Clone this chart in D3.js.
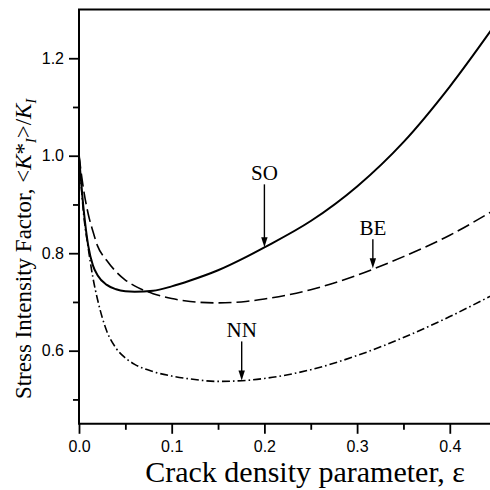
<!DOCTYPE html>
<html>
<head>
<meta charset="utf-8">
<script src="https://cdn.jsdelivr.net/npm/d3@7"></script>
<style>
  body { margin: 0; background: #fff; }
  svg { display: block; }
</style>
</head>
<body>
<svg id="chart" width="490" height="490"></svg>
<script>
// crack density values (x) and normalised stress intensity factor for each model
var eps = [0, 0.005, 0.01, 0.015, 0.02, 0.03, 0.04, 0.05, 0.06, 0.08, 0.10, 0.12, 0.15, 0.18, 0.20, 0.25, 0.30, 0.35, 0.40, 0.45];
var so  = [1.0, 0.89, 0.815, 0.775, 0.755, 0.735, 0.726, 0.722, 0.721, 0.723, 0.732, 0.744, 0.765, 0.792, 0.812, 0.866, 0.937, 1.028, 1.142, 1.272];
var be  = [1.0, 0.93, 0.88, 0.845, 0.815, 0.785, 0.762, 0.745, 0.733, 0.717, 0.707, 0.701, 0.698, 0.701, 0.706, 0.725, 0.755, 0.793, 0.837, 0.891];
var nn  = [1.0, 0.88, 0.81, 0.75, 0.705, 0.64, 0.605, 0.585, 0.572, 0.557, 0.548, 0.542, 0.537, 0.539, 0.543, 0.561, 0.590, 0.627, 0.670, 0.718];

var xTicks = [0, 0.1, 0.2, 0.3, 0.4];
var xMinor = [0.05, 0.15, 0.25, 0.35, 0.45];
var yTicks = [0.6, 0.8, 1.0, 1.2];
var yMinor = [0.5, 0.7, 0.9, 1.1];

// arrow annotations: label, eps where it points, value at the tip
var noteLabels = ["SO", "BE", "NN"];
var noteEps    = [0.2, 0.317, 0.1755];
var noteVals   = [0.812, 0.769, 0.539];

var svg = d3.select("#chart"),
    padL = 79, padT = 9.5,
    x = d3.scaleLinear().domain([0, 0.45]).range([padL, padL + 0.45 * 927]),
    y = d3.scaleLinear().domain([0.45, 1.3]).range([423.8, padT]);

svg.append("defs").append("clipPath").attr("id", "clip")
  .append("rect").attr("x", padL).attr("y", padT)
  .attr("width", 490 - padL).attr("height", y(0.45) - padT);

// curves
var line = d3.line()
  .x(function (d) { return x(d[0]); })
  .y(function (d) { return y(d[1]); })
  .curve(d3.curveMonotoneX);

var series = [
  { vals: so, dash: null, w: 2 },
  { vals: be, dash: "13,5", w: 1.6 },
  { vals: nn, dash: "8,3,1.6,3", w: 1.6 }
];

var plot = svg.append("g").attr("clip-path", "url(#clip)");
series.forEach(function (s) {
  plot.append("path")
    .datum(eps.map(function (e, i) { return [e, s.vals[i]]; }))
    .attr("d", line)
    .attr("fill", "none")
    .attr("stroke", "#000")
    .attr("stroke-width", s.w)
    .attr("stroke-dasharray", s.dash);
});

// axes
var xAxis = d3.axisBottom(x).tickValues(xTicks).tickSize(10).tickPadding(7)
  .tickFormat(d3.format(".1f"));
var xAxisMinor = d3.axisBottom(x).tickValues(xMinor).tickSize(6).tickFormat("");
var yAxis = d3.axisLeft(y).tickValues(yTicks).tickSize(10).tickPadding(5)
  .tickFormat(d3.format(".1f"));
var yAxisMinor = d3.axisLeft(y).tickValues(yMinor).tickSize(6).tickFormat("");

function style(g) {
  g.select(".domain").remove();
  g.selectAll("line").attr("stroke", "#000").attr("stroke-width", 1.8);
  g.selectAll("text").attr("fill", "#000")
    .style("font-family", "'Liberation Sans', Arial, sans-serif")
    .style("font-size", "16px");
}

svg.append("g").attr("transform", "translate(0," + y(0.45) + ")").call(xAxis).call(style);
svg.append("g").attr("transform", "translate(0," + y(0.45) + ")").call(xAxisMinor).call(style);
svg.append("g").attr("transform", "translate(" + padL + ",0)").call(yAxis).call(style);
svg.append("g").attr("transform", "translate(" + padL + ",0)").call(yAxisMinor).call(style);

// frame lines: left, bottom, top
svg.append("path")
  .attr("d", "M490," + padT + "H" + padL + "V" + y(0.45) + "H490")
  .attr("fill", "none").attr("stroke", "#000").attr("stroke-width", 2);

// axis titles
svg.append("text")
  .attr("x", 305).attr("y", 482)
  .attr("text-anchor", "middle")
  .style("font-family", "'Liberation Serif', 'Times New Roman', serif")
  .style("font-size", "30px")
  .text("Crack density parameter, ε");

var yt = svg.append("text")
  .attr("transform", "translate(31,249) rotate(-90)")
  .attr("text-anchor", "middle")
  .style("font-family", "'Liberation Serif', 'Times New Roman', serif")
  .style("font-size", "23px");
yt.append("tspan").text("Stress Intensity Factor, <");
yt.append("tspan").style("font-style", "italic").text("K");
yt.append("tspan").text("*");
yt.append("tspan").attr("dy", 5).style("font-size", "14px").style("font-style", "italic").text("I");
yt.append("tspan").attr("dy", -5).text(">/");
yt.append("tspan").style("font-style", "italic").text("K");
yt.append("tspan").attr("dy", 5).style("font-size", "14px").style("font-style", "italic").text("I");

// arrow annotations
var arrowLen = [63, 29, 39];
var notes = svg.append("g");
noteLabels.forEach(function (lab, i) {
  var px = x(noteEps[i]), py = y(noteVals[i]), top0 = py - arrowLen[i];
  notes.append("line")
    .attr("x1", px).attr("x2", px)
    .attr("y1", top0).attr("y2", py - 8)
    .attr("stroke", "#000").attr("stroke-width", 1.4);
  notes.append("path")
    .attr("d", "M" + (px - 3.2) + "," + (py - 10) + "L" + (px + 3.2) + "," + (py - 10) + "L" + px + "," + py + "Z")
    .attr("fill", "#000");
  notes.append("text")
    .attr("x", px).attr("y", top0 - 4)
    .attr("text-anchor", "middle")
    .style("font-family", "'Liberation Serif', 'Times New Roman', serif")
    .style("font-size", "21px")
    .text(lab);
});
</script>
</body>
</html>
